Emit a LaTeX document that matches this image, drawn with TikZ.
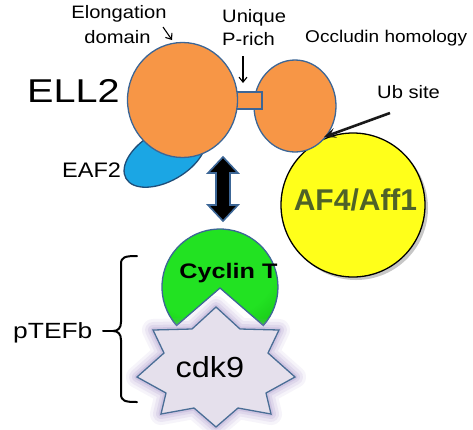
\documentclass[tikz,border=0pt]{standalone}
\usepackage{fontspec}
\setmainfont{Liberation Sans}
\newfontfamily\lblfont{Liberation Sans}[FakeStretch=1.12]
\newfontfamily\ellfont{Liberation Sans}[FakeStretch=1.2]
\usetikzlibrary{arrows.meta}
\definecolor{orangeF}{HTML}{F79646}
\definecolor{blueline}{HTML}{3C6696}
\definecolor{eafblue}{HTML}{1BA6E4}
\definecolor{eafline}{HTML}{1F4E79}
\definecolor{gA}{HTML}{22E222}
\definecolor{gB}{HTML}{0A9E0A}
\definecolor{yA}{HTML}{FFFF1A}
\definecolor{yB}{HTML}{E0E000}
\definecolor{olivetxt}{HTML}{4F6228}
\definecolor{starfill}{HTML}{E5E0EC}
\definecolor{starline}{HTML}{4A6E96}
\definecolor{glowc}{HTML}{A38EC8}
\pgfdeclareradialshading{greenball}{\pgfpoint{-8bp}{8bp}}{color(0bp)=(gA); color(26bp)=(gA); color(50bp)=(gB)}
\pgfdeclareradialshading{yellowball}{\pgfpoint{0bp}{0bp}}{color(0bp)=(yA); color(38bp)=(yA); color(50bp)=(yB)}
\begin{document}
\begin{tikzpicture}[x=1pt,y=-1pt,
  txt/.style={inner sep=0pt, font=\lblfont\fontsize{18}{20}\selectfont},
  orangeshape/.style={fill=orangeF, draw=blueline, line width=1.3pt},
  thinarr/.style={draw=black, line width=1.1pt, -{Straight Barb[length=5pt,width=8pt]}},
  bracestyle/.style={line width=2pt, line cap=round, line join=round}]
\fill[white] (0,0) rectangle (473,429);
\useasboundingbox (0,0) rectangle (473,429);

% AF4/Aff1 yellow disc
\fill[black, opacity=0.22] (356,208) circle[radius=72];
\path[shading=yellowball, draw=black, line width=1.3pt] (353,205) circle[radius=72];

% EAF2
\draw[fill=eafblue, draw=eafline, line width=1.3pt, rotate around={30:(165,156)}] (165,156) ellipse[x radius=45, y radius=25];

% ELL2 domains
\draw[orangeshape] (295,106) ellipse[x radius=41, y radius=46];
\draw[orangeshape] (228,92) rectangle (262,109);
\draw[orangeshape] (182.5,100) ellipse[x radius=55, y radius=57.5];

% double block arrow
\draw[fill=black, draw=blueline, line width=1.6pt, line join=miter]
  (223,157) -- (238,173) -- (230,173) -- (230,205) -- (238,205) -- (223,221)
  -- (208,205) -- (216,205) -- (216,173) -- (208,173) -- cycle;

% Cyclin T
\path[shading=greenball, draw=blueline, line width=1.3pt]
  (220,288) -- (176.6,325.5) arc[start angle=138.4, end angle=401.6, radius=58] -- cycle;

% cdk9 star with glow
\foreach \w/\o in {22/0.09, 16/0.13, 10/0.17, 5/0.24} {
  \draw[glowc, line width=\w pt, opacity=\o, line join=round]
    (216,307) -- (240,329) -- (279,330) -- (268,353) -- (295,377)
    -- (266,393) -- (271,414) -- (238,408) -- (216,427)
    -- (194,408) -- (161,414) -- (166,393) -- (137,377)
    -- (164,353) -- (153,330) -- (192,329) -- cycle;
}
\draw[fill=starfill, draw=starline, line width=1.3pt, line join=miter]
    (216,307) -- (240,329) -- (279,330) -- (268,353) -- (295,377)
    -- (266,393) -- (271,414) -- (238,408) -- (216,427)
    -- (194,408) -- (161,414) -- (166,393) -- (137,377)
    -- (164,353) -- (153,330) -- (192,329) -- cycle;

% labels
\node[txt, anchor=base] (elong) at (119,18) {Elongation};
\node[txt, anchor=base] (dom) at (117.5,43) {domain};
\node[txt, anchor=base west] (uniq) at (222,22) {Unique};
\node[txt, anchor=base west] (prich) at (222,45) {P-rich};
\node[txt, font=\lblfont\fontsize{17}{19}\selectfont, anchor=base west] (occ) at (305,42) {Occludin homology};
\node[txt, anchor=base west] (ub) at (377,98) {Ub site};
\node[inner sep=0pt, font=\ellfont\fontsize{33}{36}\selectfont, anchor=base west] (ell) at (27,102) {ELL2};
\node[txt, font=\lblfont\fontsize{21}{24}\selectfont, anchor=base west] (eaf) at (62,177) {EAF2};
\node[inner sep=0pt, font=\ellfont\fontsize{22}{24}\selectfont, anchor=base west] (ptefb) at (13,338) {pTEFb};
\node[inner sep=0pt, font=\ellfont\bfseries\fontsize{21}{24}\selectfont, anchor=base] (cyc) at (228.5,278) {Cyclin T};
\node[inner sep=0pt, font=\lblfont\fontsize{29}{32}\selectfont, anchor=base] (cdk) at (210,377) {cdk9};
\node[inner sep=0pt, font=\bfseries\fontsize{30}{32}\selectfont, text=olivetxt, anchor=base] (af4) at (355.5,210) {AF4/Aff1};

% pointer arrows
\coordinate (elongS) at (163,27);
\coordinate (elongE) at (172,40);
\draw[thinarr] (elongS) -- (elongE);
\coordinate (pS) at (243,56);
\coordinate (pE) at (243,83);
\draw[thinarr] (pS) -- (pE);
\coordinate (ubS) at (390,113);
\coordinate (ubE) at (324,137);
\draw[line width=2.6pt, black!90, -{Stealth[length=12pt,width=10pt,inset=5pt]}] (ubS) -- (ubE);

% brace
\coordinate (brTop) at (137,256);
\coordinate (brMid) at (113,331);
\coordinate (brBot) at (137,402);
\coordinate (dashS) at (103,331);
\draw[bracestyle] (brTop) .. controls (125,256) and (121,257) .. (121,264) -- (121,322)
  .. controls (121,328) and (118,331) .. (brMid)
  .. controls (118,331) and (121,334) .. (121,340) -- (121,394)
  .. controls (121,401) and (125,402) .. (brBot);
\draw[bracestyle] (dashS) -- (brMid);
\end{tikzpicture}
\end{document}
